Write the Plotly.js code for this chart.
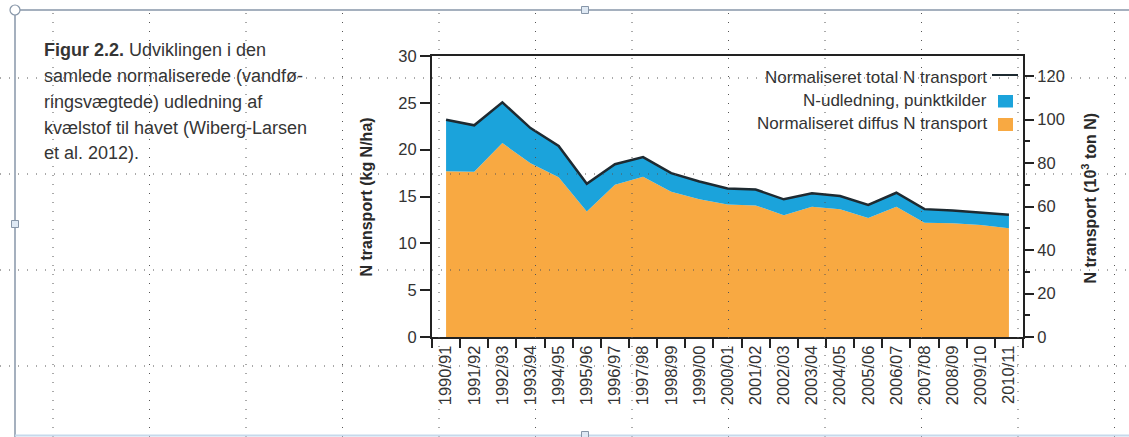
<!DOCTYPE html>
<html>
<head>
<meta charset="utf-8">
<script src="https://cdn.plot.ly/plotly-3.0.1.min.js"></script>
<style>
  html, body { margin: 0; padding: 0; background: #ffffff; }
  #chart { width: 1129px; height: 437px; }
</style>
</head>
<body>
<div id="chart"></div>
<script>
// ---- data ----
const seasons = ["1990/91","1991/92","1992/93","1993/94","1994/95","1995/96","1996/97",
  "1997/98","1998/99","1999/00","2000/01","2001/02","2002/03","2003/04","2004/05",
  "2005/06","2006/07","2007/08","2008/09","2009/10","2010/11"];
// Normaliseret total N transport (kg N/ha)
const totalN = [23.2, 22.6, 25.05, 22.3, 20.4, 16.35, 18.45, 19.2, 17.5, 16.6, 15.85,
  15.75, 14.7, 15.35, 15.05, 14.1, 15.4, 13.65, 13.5, 13.3, 13.05];
// Normaliseret diffus N transport (kg N/ha)
const diffusN = [17.7, 17.65, 20.7, 18.55, 17.05, 13.4, 16.25, 17.1, 15.5, 14.7, 14.15,
  14.05, 13.0, 13.9, 13.65, 12.7, 13.9, 12.2, 12.15, 11.95, 11.6];
const legendNames = ["Normaliseret total N transport", "N-udledning, punktkilder", "Normaliseret diffus N transport"];
const leftTicks = [0, 5, 10, 15, 20, 25, 30];
const rightTicks = [0, 20, 40, 60, 80, 100, 120];
const captionLines = [
  "<b>Figur 2.2.</b> Udviklingen i den",
  "samlede normaliserede (vandfø-",
  "ringsvægtede) udledning af",
  "kvælstof til havet (Wiberg-Larsen",
  "et al. 2012)."
];

// ---- styling / layout ----
const W = 1129, H = 437;
const L = 432, R = 1023, T = 56, B = 337;
const px = x => (x - L) / (R - L);
const py = y => (B - y) / (B - T);
const FONT = "Liberation Sans, Arial, Helvetica, sans-serif";
const ORANGE = "#F8A942", BLUE = "#1BA3DB", DARK = "#1e2a31", TXT = "#333333";

const traces = [
  { x: seasons, y: diffusN, type: "scatter", mode: "lines", fill: "tozeroy",
    fillcolor: ORANGE, line: { width: 0, color: ORANGE }, name: legendNames[2],
    hoverinfo: "x+y", showlegend: false },
  { x: seasons, y: totalN, type: "scatter", mode: "lines", fill: "tonexty",
    fillcolor: BLUE, line: { width: 2.5, color: DARK }, name: legendNames[0],
    hoverinfo: "x+y", showlegend: false },
  // carrier trace so that the right-hand axis (10^3 ton N) is drawn; it has no points
  { x: [], y: [], type: "scatter", mode: "lines", yaxis: "y2", xaxis: "x",
    showlegend: false, hoverinfo: "skip", name: "N transport (10³ ton N)" }
];

const shapes = [];
const annotations = [];

// page decorations: dotted layout grid
const dotLine = { color: "#555555", width: 1, dash: "1px,8px" };
[78, 174, 270, 366].forEach(y => shapes.push({ type: "line", xref: "paper", yref: "paper",
  x0: px(0), x1: px(W), y0: py(y), y1: py(y), line: dotLine, layer: "above" }));
for (let k = 0; k < 12; k++) {
  const x = 53 + 96.5 * k;
  shapes.push({ type: "line", xref: "paper", yref: "paper", x0: px(x), x1: px(x),
    y0: py(13), y1: py(H), line: dotLine, layer: "above" });
}
// frame of the picture box
const FRAME = "#8796a8";
shapes.push({ type: "line", xref: "paper", yref: "paper", x0: px(15), x1: px(W), y0: py(10), y1: py(10), line: { color: FRAME, width: 1.5 } });
shapes.push({ type: "line", xref: "paper", yref: "paper", x0: px(15), x1: px(15), y0: py(10), y1: py(H), line: { color: FRAME, width: 1.5 } });
shapes.push({ type: "line", xref: "paper", yref: "paper", x0: px(15), x1: px(W), y0: py(435.5), y1: py(435.5), line: { color: "#c6d9ec", width: 2 } });
shapes.push({ type: "circle", xref: "paper", yref: "paper", x0: px(10), x1: px(20), y0: py(5), y1: py(15), fillcolor: "#ffffff", line: { color: FRAME, width: 1.2 } });
[[585, 10], [15, 224], [585, 435]].forEach(([cx, cy]) => shapes.push({ type: "rect", xref: "paper", yref: "paper",
  x0: px(cx - 3.5), x1: px(cx + 3.5), y0: py(cy - 3.5), y1: py(cy + 3.5), fillcolor: "#dfe9f4", line: { color: FRAME, width: 1 } }));

// legend (symbols on the right of the text, as in the reference)
const legendY = [77.5, 100, 123.5];
legendNames.forEach((n, i) => annotations.push({ xref: "paper", yref: "paper", x: px(989), y: py(legendY[i]),
  xanchor: "right", yanchor: "middle", text: n, showarrow: false,
  font: { family: FONT, size: 17, color: TXT } }));
shapes.push({ type: "line", xref: "paper", yref: "paper", x0: px(992), x1: px(1018), y0: py(75), y1: py(75), line: { color: DARK, width: 2 } });
shapes.push({ type: "rect", xref: "paper", yref: "paper", x0: px(998), x1: px(1013), y0: py(95), y1: py(107.5), fillcolor: BLUE, line: { width: 0 } });
shapes.push({ type: "rect", xref: "paper", yref: "paper", x0: px(998), x1: px(1013), y0: py(118), y1: py(131), fillcolor: ORANGE, line: { width: 0 } });

// caption
const capY = [50, 76, 102, 128, 153];
captionLines.forEach((t, i) => annotations.push({ xref: "paper", yref: "paper", x: px(42), y: py(capY[i]),
  xanchor: "left", yanchor: "middle", text: t, showarrow: false, align: "left",
  font: { family: FONT, size: 18, color: "#353535" } }));

// axis titles
annotations.push({ xref: "paper", yref: "paper", x: px(366), y: py(197.5), textangle: -90,
  text: "<b>N transport (kg N/ha)</b>", showarrow: false, xanchor: "center", yanchor: "middle",
  font: { family: FONT, size: 16, color: "#2a2a2a" } });
annotations.push({ xref: "paper", yref: "paper", x: px(1089), y: py(198.5), textangle: -90,
  text: "<b>N transport (10<sup>3</sup> ton N)</b>", showarrow: false, xanchor: "center", yanchor: "middle",
  font: { family: FONT, size: 16, color: "#2a2a2a" } });

const axisCommon = {
  showgrid: false, zeroline: false, showline: true, linecolor: "#222222", linewidth: 2,
  ticks: "outside", tickcolor: "#222222", tickwidth: 2,
  tickfont: { family: FONT, size: 16.5, color: TXT }, fixedrange: true
};

const layout = {
  width: W, height: H,
  margin: { l: L, r: W - R, t: T, b: H - B, pad: 0 },
  paper_bgcolor: "#ffffff", plot_bgcolor: "#ffffff",
  showlegend: false,
  xaxis: Object.assign({}, axisCommon, {
    type: "category", categoryorder: "array", categoryarray: seasons,
    range: [-0.5, seasons.length - 0.5], tickson: "boundaries", ticklen: 9,
    tickangle: -90, mirror: true, automargin: false
  }),
  yaxis: Object.assign({}, axisCommon, {
    range: [0, 30], tickvals: leftTicks, ticklen: 10, automargin: false
  }),
  yaxis2: Object.assign({}, axisCommon, {
    overlaying: "y", side: "right", anchor: "x", range: [0, 129.2],
    tickvals: rightTicks, ticklen: 9, automargin: false,
    minor: { dtick: 10, ticks: "outside", ticklen: 5, tickwidth: 2, tickcolor: "#222222", showgrid: false }
  }),
  shapes: shapes,
  annotations: annotations
};

Plotly.newPlot("chart", traces, layout, { displayModeBar: false, staticPlot: true });
</script>
</body>
</html>
